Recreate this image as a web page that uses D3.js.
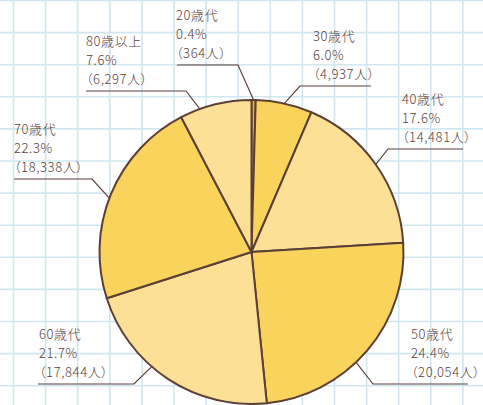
<!DOCTYPE html>
<html>
<head>
<meta charset="utf-8">
<script src="https://cdn.jsdelivr.net/npm/d3@7"></script>
<style>
  html, body { margin: 0; padding: 0; background: #fff; }
  svg { display: block; }
  text { font-family: "Noto Sans CJK JP", "Noto Sans", sans-serif; font-size: 13px; font-weight: 300; fill: #5b4038; letter-spacing: 0.6px; font-feature-settings: "palt"; }
</style>
</head>
<body>
<div id="chart"></div>
<script>
const AGES = ['20歳代', '30歳代', '40歳代', '50歳代', '60歳代', '70歳代', '80歳以上'];
const COUNTS = [364, 4937, 14481, 20054, 17844, 18338, 6297];
const PERCENTS = ['0.4%', '6.0%', '17.6%', '24.4%', '21.7%', '22.3%', '7.6%'];

// label layout: text x, leader y, horizontal line ends, elbow side, anchor position inside slice
const LABEL_POS = [
  { tx: 176, ly: 65,  x0: 177, x1: 238, elbow: 'right', f: 0.5 },
  { tx: 313, ly: 86,  x0: 300, x1: 371, elbow: 'left',  f: 0.5 },
  { tx: 402, ly: 149, x0: 388, x1: 463, elbow: 'left',  f: 0.5 },
  { tx: 411, ly: 384, x0: 373, x1: 468, elbow: 'left',  f: 0.57 },
  { tx: 39,  ly: 384, x0: 38,  x1: 134, elbow: 'right', f: 0.6 },
  { tx: 14,  ly: 179, x0: 14,  x1: 92,  elbow: 'right', f: 0.48 },
  { tx: 86,  ly: 91,  x0: 86,  x1: 186, elbow: 'right', f: 0.28 },
];
const FILLS = ['#f2ad3a', '#f9d35c', '#fbe096', '#f9d35c', '#fbe096', '#f9d35c', '#fbe096'];

const w = 483, h = 405;
const cx = 251.5, cy = 252, r = 152;
const INK = '#5b4038';

const svg = d3.select('#chart').append('svg')
  .attr('width', w).attr('height', h);

// graph paper grid
const step = 32.1;
const gx = d3.range(13.5, w, step);
const gy = d3.range(0.5, h, step);
const grid = svg.append('g').attr('stroke', '#cfe8ef').attr('stroke-width', 1.6);
grid.selectAll('line.v').data(gx).join('line')
  .attr('class', 'v')
  .attr('x1', d => d).attr('x2', d => d)
  .attr('y1', 0).attr('y2', h);
grid.selectAll('line.h').data(gy).join('line')
  .attr('class', 'h')
  .attr('x1', 0).attr('x2', w)
  .attr('y1', d => d).attr('y2', d => d);

const pie = d3.pie().sort(null).value(d => d);
const arcs = pie(COUNTS);
const arc = d3.arc().innerRadius(0).outerRadius(r);

const g = svg.append('g').attr('transform', `translate(${cx},${cy})`);
g.selectAll('path')
  .data(arcs)
  .join('path')
  .attr('d', arc)
  .attr('fill', (d, i) => FILLS[i])
  .attr('stroke', INK)
  .attr('stroke-width', 2)
  .attr('stroke-linejoin', 'round');

// leaders
const lead = svg.append('g').attr('fill', 'none').attr('stroke', INK).attr('stroke-width', 1.2);
arcs.forEach((a, i) => {
  const p = LABEL_POS[i];
  const ang = a.startAngle + (a.endAngle - a.startAngle) * p.f;
  const ex = cx + r * Math.sin(ang);
  const ey = cy - r * Math.cos(ang);
  const bx = p.elbow === 'right' ? p.x1 : p.x0;
  const ox = p.elbow === 'right' ? p.x0 : p.x1;
  lead.append('path')
    .attr('d', d3.line()([[ox, p.ly], [bx, p.ly], [ex, ey]]));
});

// labels
const lab = svg.append('g');
AGES.forEach((name, i) => {
  const p = LABEL_POS[i];
  const lines = [name, PERCENTS[i], `（${d3.format(',')(COUNTS[i])}人）`];
  lines.forEach((t, k) => {
    lab.append('text')
      .attr('x', p.tx)
      .attr('y', p.ly - 13 - 19 * (2 - k))
      .attr('dominant-baseline', 'central')
      .text(t);
  });
});
</script>
</body>
</html>
